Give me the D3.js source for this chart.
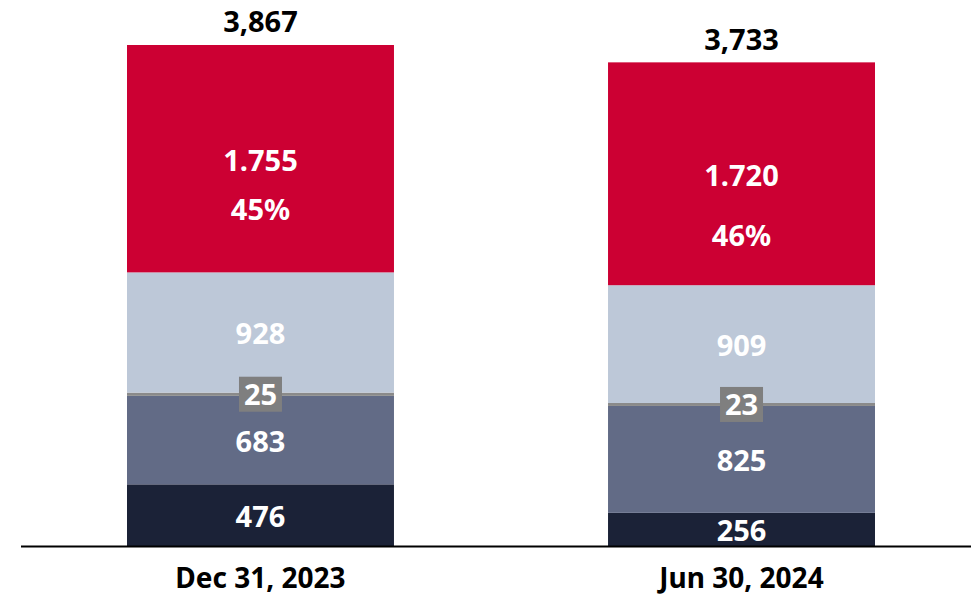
<!DOCTYPE html>
<html>
<head>
<meta charset="utf-8">
<script src="https://cdn.jsdelivr.net/npm/d3@7"></script>
<style>
  body { margin: 0; background: #fff; }
  svg text { font-family: "Noto Sans", "Open Sans", sans-serif; font-weight: 700; }
</style>
</head>
<body>
<svg id="chart" width="971" height="597"></svg>
<script>
// Chart data, bottom segment first
const categories = ["Dec 31, 2023", "Jun 30, 2024"];
const totals = [3867, 3733];
const segmentKeys = ["navy", "slate", "grey", "light", "red"];
const navyValues = [476, 256];
const slateValues = [683, 825];
const greyValues = [25, 23];
const lightValues = [928, 909];
const redValues = [1755, 1720];
const redShares = ["45%", "46%"];
const redLabels = ["1.755", "1.720"];

const colors = {
    navy: "#1b2237",
    slate: "#626b86",
    grey: "#8a8a8a",
    light: "#bdc8d8",
    red: "#cc0033"
};

const baseY = 546;
const labelSize = 29;

const rows = categories.map((c, i) => ({
    cat: c,
    navy: navyValues[i],
    slate: slateValues[i],
    grey: greyValues[i],
    light: lightValues[i],
    red: redValues[i]
}));

const svg = d3.select("#chart");

const x = d3.scaleBand()
    .domain(categories)
    .range([127, 875])
    .paddingInner(0.445)
    .paddingOuter(0);

const y = d3.scaleLinear()
    .domain([0, 3867])
    .range([baseY, 45]);

const stacked = d3.stack().keys(segmentKeys)(rows);

// Bars
const layers = svg.append("g")
    .selectAll("g")
    .data(stacked)
    .join("g")
    .attr("fill", d => colors[d.key]);

layers.selectAll("rect")
    .data(d => d)
    .join("rect")
    .attr("x", d => x(d.data.cat))
    .attr("width", x.bandwidth())
    .attr("y", d => y(d[1]))
    .attr("height", d => y(d[0]) - y(d[1]));

// Segment labels
const labels = svg.append("g");

function whiteText(cx, cy, txt) {
    labels.append("text")
        .attr("x", cx)
        .attr("y", cy)
        .attr("dy", "0.36em")
        .attr("text-anchor", "middle")
        .attr("font-size", labelSize)
        .attr("fill", "#fff")
        .text(txt);
}

stacked.forEach(layer => {
    layer.forEach((d, i) => {
        const cx = x(d.data.cat) + x.bandwidth() / 2;
        const cy = (y(d[0]) + y(d[1])) / 2;
        if (layer.key === "grey") {
            // small segment gets a boxed label
            labels.append("rect")
                .attr("x", cx - 21.5)
                .attr("y", cy - 17.5)
                .attr("width", 43)
                .attr("height", 35)
                .attr("fill", "#7f7f7f");
            whiteText(cx, cy, d.data.grey);
        } else if (layer.key === "red") {
            whiteText(cx, cy + 2, redLabels[i]);
            whiteText(cx, cy + 2 + (i === 0 ? 49 : 60), redShares[i]);
        } else {
            whiteText(cx, cy + 1, d.data[layer.key]);
        }
    });
});

// Totals on top
svg.append("g")
    .selectAll("text")
    .data(categories)
    .join("text")
    .attr("x", c => x(c) + x.bandwidth() / 2)
    .attr("y", (c, i) => y(totals[i]) - 23)
    .attr("dy", "0.36em")
    .attr("text-anchor", "middle")
    .attr("font-size", labelSize)
    .attr("fill", "#000")
    .text((c, i) => d3.format(",")(totals[i]));

// Baseline and category labels
svg.append("line")
    .attr("x1", 21).attr("x2", 971)
    .attr("y1", baseY + 0.5).attr("y2", baseY + 0.5)
    .attr("stroke", "#000")
    .attr("stroke-width", 2);

svg.append("g")
    .selectAll("text")
    .data(categories)
    .join("text")
    .attr("x", c => x(c) + x.bandwidth() / 2)
    .attr("y", 578)
    .attr("dy", "0.36em")
    .attr("text-anchor", "middle")
    .attr("font-size", 28)
    .attr("fill", "#000")
    .text(c => c);
</script>
</body>
</html>
